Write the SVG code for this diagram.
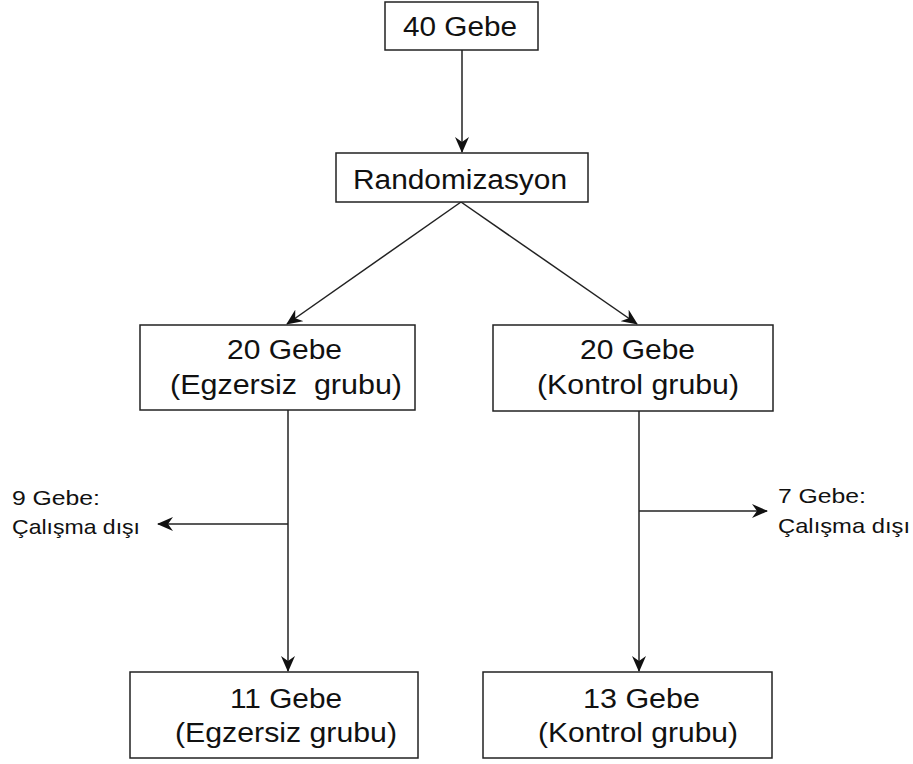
<svg xmlns="http://www.w3.org/2000/svg" width="913" height="764" viewBox="0 0 913 764">
<defs>
<style>
.box{fill:#fff;stroke:#222;stroke-width:1.5}
.t{font-family:"Liberation Sans",Arial,sans-serif;font-size:27px;fill:#111}
.s{font-family:"Liberation Sans",Arial,sans-serif;font-size:21px;fill:#111}
.c{fill:none;stroke:#222;stroke-width:1.5}
</style>
<marker id="ah" viewBox="0 0 16 14" refX="15" refY="7" markerWidth="16" markerHeight="14" markerUnits="userSpaceOnUse" orient="auto">
<path d="M0,0 L16,7 L0,14 L5,7 z" fill="#111"/>
</marker>
</defs>
<rect width="913" height="764" fill="#fff"/>
<g id="connectors">
<line class="c" x1="462" y1="50" x2="462" y2="152" marker-end="url(#ah)"/>
<line class="c" x1="461" y1="202" x2="287" y2="324" marker-end="url(#ah)"/>
<line class="c" x1="461" y1="202" x2="637" y2="324" marker-end="url(#ah)"/>
<line class="c" x1="288" y1="410" x2="288" y2="671" marker-end="url(#ah)"/>
<line class="c" x1="288" y1="524" x2="158" y2="524" marker-end="url(#ah)"/>
<line class="c" x1="639" y1="411" x2="639" y2="671" marker-end="url(#ah)"/>
<line class="c" x1="639" y1="511" x2="767" y2="511" marker-end="url(#ah)"/>
</g>
<g id="n40">
<rect class="box" x="385" y="2" width="153" height="48"/>
<text class="t" x="403" y="36" textLength="114" lengthAdjust="spacingAndGlyphs">40 Gebe</text>
</g>
<g id="random">
<rect class="box" x="336" y="153" width="252" height="49"/>
<text class="t" x="353" y="189" textLength="214" lengthAdjust="spacingAndGlyphs">Randomizasyon</text>
</g>
<g id="egz20">
<rect class="box" x="140" y="325" width="275" height="85"/>
<text class="t" x="227" y="359" textLength="115" lengthAdjust="spacingAndGlyphs">20 Gebe</text>
<text class="t" x="170" y="394" textLength="232" lengthAdjust="spacingAndGlyphs">(Egzersiz&#160; grubu)</text>
</g>
<g id="kon20">
<rect class="box" x="493" y="325" width="280" height="86"/>
<text class="t" x="580" y="359" textLength="115" lengthAdjust="spacingAndGlyphs">20 Gebe</text>
<text class="t" x="537" y="394" textLength="202" lengthAdjust="spacingAndGlyphs">(Kontrol grubu)</text>
</g>
<g id="out9">
<text class="s" x="12" y="505" textLength="88" lengthAdjust="spacingAndGlyphs">9 Gebe:</text>
<text class="s" x="12" y="534" textLength="128" lengthAdjust="spacingAndGlyphs">Çalışma dışı</text>
</g>
<g id="out7">
<text class="s" x="778" y="503" textLength="88" lengthAdjust="spacingAndGlyphs">7 Gebe:</text>
<text class="s" x="778" y="533" textLength="132" lengthAdjust="spacingAndGlyphs">Çalışma dışı</text>
</g>
<g id="egz11">
<rect class="box" x="130" y="672" width="288" height="86"/>
<text class="t" x="230" y="708" textLength="112" lengthAdjust="spacingAndGlyphs">11 Gebe</text>
<text class="t" x="175" y="742" textLength="222" lengthAdjust="spacingAndGlyphs">(Egzersiz grubu)</text>
</g>
<g id="kon13">
<rect class="box" x="483" y="672" width="289" height="86"/>
<text class="t" x="583" y="708" textLength="117" lengthAdjust="spacingAndGlyphs">13 Gebe</text>
<text class="t" x="538" y="742" textLength="200" lengthAdjust="spacingAndGlyphs">(Kontrol grubu)</text>
</g>
</svg>
